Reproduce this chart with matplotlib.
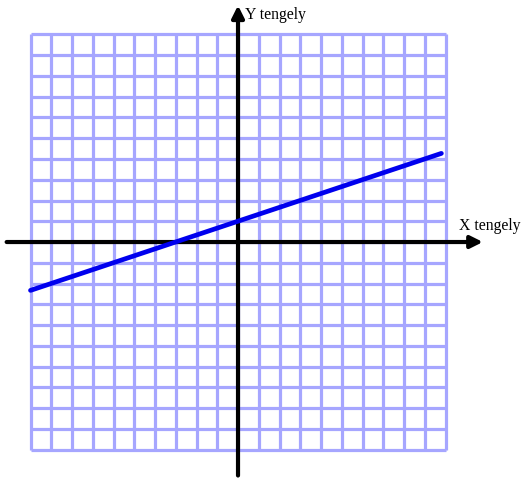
import numpy as np
import matplotlib.pyplot as plt

# grid range (units)
grid_min = -10
grid_max = 10

# line endpoints
line_x = [-10, 9.8]
line_y = [-2.33, 4.27]

# axis extents
x_axis = [-11.15, 11.8]
y_axis = [-11.25, 11.4]

x_label = "X tengely"
y_label = "Y tengely"

fig = plt.figure(figsize=(5.25, 4.83), dpi=100)
ax = fig.add_axes([0, 0, 1, 1])
ax.set_xlim(-11.47, 13.83)
ax.set_ylim(-11.61, 11.66)
ax.axis('off')

# grid
ticks = np.arange(grid_min, grid_max + 1)
ax.vlines(ticks, grid_min, grid_max, color='#a6a6ff', lw=2.3, zorder=1)
ax.hlines(ticks, grid_min, grid_max, color='#a6a6ff', lw=2.3, zorder=1)

# axes with arrows
ax.annotate('', xy=(x_axis[1], 0), xytext=(x_axis[0], 0),
            arrowprops=dict(arrowstyle='-|>', lw=3, color='black',
                            mutation_scale=18, shrinkA=0, shrinkB=0), zorder=3)
ax.annotate('', xy=(0, y_axis[1]), xytext=(0, y_axis[0]),
            arrowprops=dict(arrowstyle='-|>', lw=3, color='black',
                            mutation_scale=18, shrinkA=0, shrinkB=0), zorder=3)

# the line
ax.plot(line_x, line_y, color='#0000ee', lw=3.4, solid_capstyle='round', zorder=4)

ax.text(0.34, 10.75, y_label, family='Liberation Serif', fontsize=11.3, va='baseline', ha='left')
ax.text(10.65, 0.58, x_label, family='Liberation Serif', fontsize=11.3, va='baseline', ha='left')

fig.savefig('out.png', dpi=100)
